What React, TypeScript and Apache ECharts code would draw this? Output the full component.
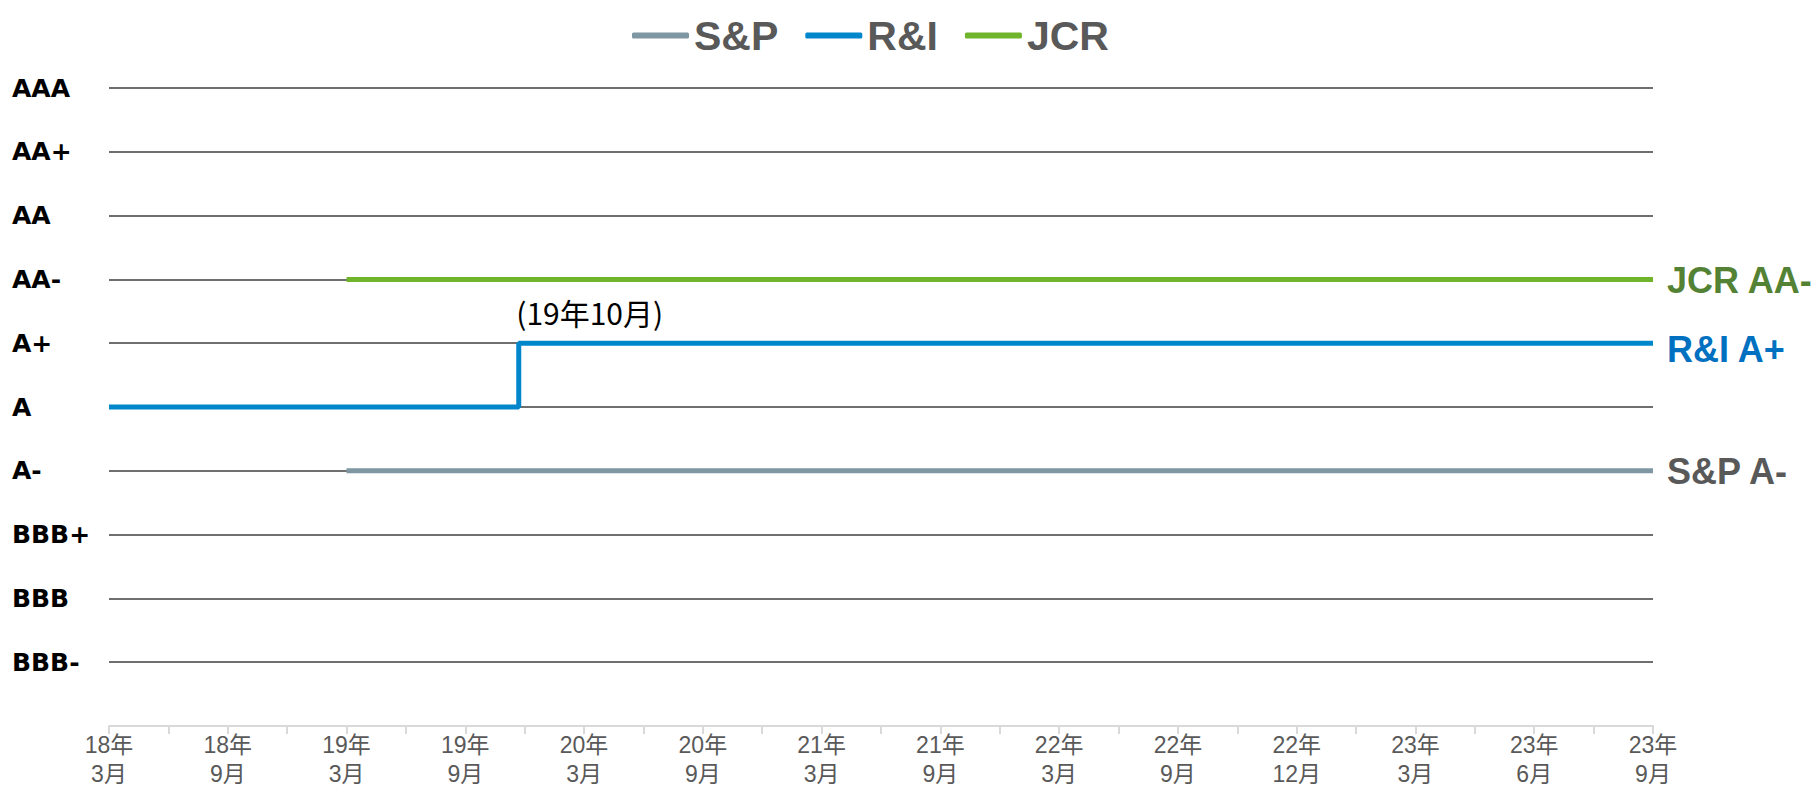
import React, { useEffect, useRef } from "react";
import * as echarts from "echarts";

// Tick labels of the x axis (one label every other tick)
const periodLabels = [
  "18年\n3月", "18年\n9月", "19年\n3月", "19年\n9月", "20年\n3月", "20年\n9月",
  "21年\n3月", "21年\n9月", "22年\n3月", "22年\n9月", "22年\n12月", "23年\n3月",
  "23年\n6月", "23年\n9月",
];
// Rating scale (index = numeric level)
const ratingScale = ["", "BBB-", "BBB", "BBB+", "A-", "A", "A+", "AA-", "AA", "AA+", "AAA"];

// Series (x = tick position, y = rating)
const spX = [4, 26];
const spY = ["A-", "A-"];
const riX = [0, 6.9, 6.9, 26];
const riY = ["A", "A", "A+", "A+"];
const jcrX = [4, 26];
const jcrY = ["AA-", "AA-"];

const seriesNames = ["S&P", "R&I", "JCR"];
const endLabels = ["S&P A-", "R&I A+", "JCR AA-"];
const annotation = "(19年10月)";

const toPts = (xs: number[], ys: string[]) => xs.map((x, i) => [x, ratingScale.indexOf(ys[i])]);

export default function App() {
  const ref = useRef<HTMLDivElement>(null);
  useEffect(() => {
    if (!ref.current) return;
    const chart = echarts.init(ref.current, undefined, { renderer: "svg" });
    const latin = "'Liberation Sans', Arial, sans-serif";
    const cjk = "'Liberation Sans', 'Noto Sans CJK JP', sans-serif";
    const mkEnd = (text: string, color: string, offset: number[]) => ({
      show: true,
      formatter: text,
      color,
      fontFamily: latin,
      fontWeight: "bold",
      fontSize: 36,
      distance: 14,
      offset,
    });
    chart.setOption({
      animation: false,
      grid: { left: 109, right: 163, top: 88, bottom: 63, outerBoundsMode: "none", containLabel: false },
      legend: {
        left: 627,
        top: 10,
        icon: "roundRect",
        itemWidth: 57,
        itemHeight: 6,
        itemGap: 27,
        textStyle: { color: "#595959", fontSize: 41, fontWeight: "bold", fontFamily: latin },
        data: seriesNames,
      },
      xAxis: {
        type: "value",
        min: 0,
        max: 26,
        interval: 1,
        axisLine: { show: true, lineStyle: { color: "#D9D9D9", width: 2 } },
        axisTick: { show: true, length: 8, lineStyle: { color: "#D9D9D9", width: 2 } },
        splitLine: { show: false },
        axisLabel: {
          color: "#595959",
          fontSize: 23,
          lineHeight: 29,
          margin: 4,
          fontFamily: cjk,
          formatter: (v: number) => (v % 2 === 0 ? periodLabels[v / 2] : ""),
        },
      },
      yAxis: {
        type: "value",
        min: 0,
        max: 10,
        interval: 1,
        axisLine: { show: false },
        axisTick: { show: false },
        splitLine: {
          show: true,
          lineStyle: {
            color: ["#D9D9D9", "#6f6f6f", "#6f6f6f", "#6f6f6f", "#6f6f6f", "#6f6f6f", "#6f6f6f", "#6f6f6f", "#6f6f6f", "#6f6f6f", "#6f6f6f"],
            width: 2,
          },
        },
        axisLabel: {
          align: "left",
          margin: 97,
          color: "#000",
          fontSize: 25,
          fontWeight: "bold",
          fontFamily: "'DejaVu Sans', sans-serif",
          formatter: (v: number) => ratingScale[v] || "",
        },
      },
      series: [
        {
          name: seriesNames[0],
          type: "line",
          data: toPts(spX, spY),
          showSymbol: false,
          symbol: "none",
          color: "#7F97A3",
          lineStyle: { width: 5, color: "#7F97A3" },
          endLabel: mkEnd(endLabels[0], "#595959", [0, 1]),
          z: 3,
        },
        {
          name: seriesNames[1],
          type: "line",
          data: toPts(riX, riY),
          showSymbol: false,
          symbol: "none",
          color: "#0086CB",
          lineStyle: { width: 5, color: "#0086CB" },
          endLabel: mkEnd(endLabels[1], "#0070C0", [0, 6]),
          markPoint: {
            symbol: "circle",
            symbolSize: 1,
            itemStyle: { color: "rgba(0,0,0,0)" },
            label: {
              show: true,
              position: "right",
              distance: 0,
              offset: [-3, -31],
              formatter: annotation,
              color: "#000",
              fontSize: 30,
              fontFamily: "'Noto Sans CJK JP', sans-serif",
            },
            data: [{ coord: [riX[1], ratingScale.indexOf(riY[2])] }],
          },
          z: 4,
        },
        {
          name: seriesNames[2],
          type: "line",
          data: toPts(jcrX, jcrY),
          showSymbol: false,
          symbol: "none",
          color: "#70B42C",
          lineStyle: { width: 5, color: "#70B42C" },
          endLabel: mkEnd(endLabels[2], "#548235", [0, 1]),
          z: 3,
        },
      ],
    });
    return () => chart.dispose();
  }, []);
  return (
    <div
      ref={ref}
      style={{ position: "fixed", left: 0, top: 0, width: 1816, height: 789, background: "#fff" }}
    />
  );
}
